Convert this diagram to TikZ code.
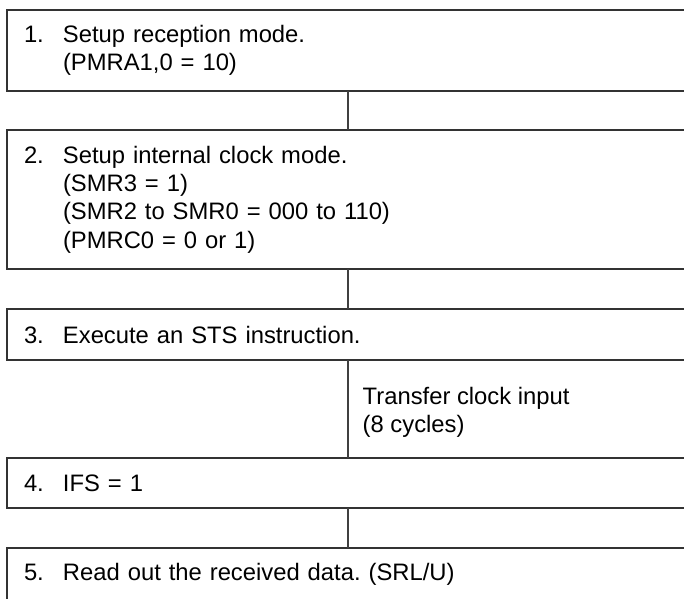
\documentclass[tikz,border=0pt]{standalone}
\usepackage{fontspec}
\setmainfont{Liberation Sans}
\usetikzlibrary{positioning}
\frenchspacing

\newcommand{\stepno}[1]{\makebox[39pt][l]{#1}}
\newcommand{\stepin}{\hspace*{39pt}}

\begin{document}
\begin{tikzpicture}[x=1pt, y=-1pt,
  every node/.style={font=\fontsize{23.8}{28.3}\selectfont},
  stepbox/.style={draw=black!80, line width=1.6pt, anchor=north west, outer sep=0pt,
    minimum width=720pt, text width=686pt, inner xsep=17pt, align=left},
  link/.style={draw=black!75, line width=1.4pt}]
  \useasboundingbox (0,0) rectangle (684,598);
  \clip (0,0) rectangle (684,598);
  \coordinate (spine) at (348,0);
  % steps
  \node[stepbox, minimum height=81pt] (setup1) at (7,10)
    {\stepno{1.}Setup reception mode.\\\stepin(PMRA1,0 = 10)};
  \node[stepbox, minimum height=139pt, below=39pt of setup1.south west, anchor=north west] (setup2)
    {\stepno{2.}Setup internal clock mode.\\\stepin(SMR3 = 1)\\\stepin(SMR2 to SMR0 = 000 to 110)\\\stepin(PMRC0 = 0 or 1)};
  \node[stepbox, minimum height=51pt, below=40pt of setup2.south west, anchor=north west] (exec3)
    {\stepno{3.}Execute an STS instruction.};
  \node[stepbox, minimum height=50pt, below=98pt of exec3.south west, anchor=north west] (ifs4)
    {\stepno{4.}IFS = 1};
  \node[stepbox, minimum height=52pt, below=40pt of ifs4.south west, anchor=north west] (read5)
    {\stepno{5.}Read out the received data.\ (SRL/U)};
  % connectors
  \draw[link] (setup1.south -| spine) -- (setup2.north -| spine);
  \draw[link] (setup2.south -| spine) -- (exec3.north -| spine);
  \draw[link] (exec3.south -| spine) -- node[right=14pt, inner sep=0pt, yshift=-3pt, align=left] (xferclk)
    {Transfer clock input\\(8 cycles)} (ifs4.north -| spine);
  \draw[link] (ifs4.south -| spine) -- (read5.north -| spine);
\end{tikzpicture}
\end{document}
